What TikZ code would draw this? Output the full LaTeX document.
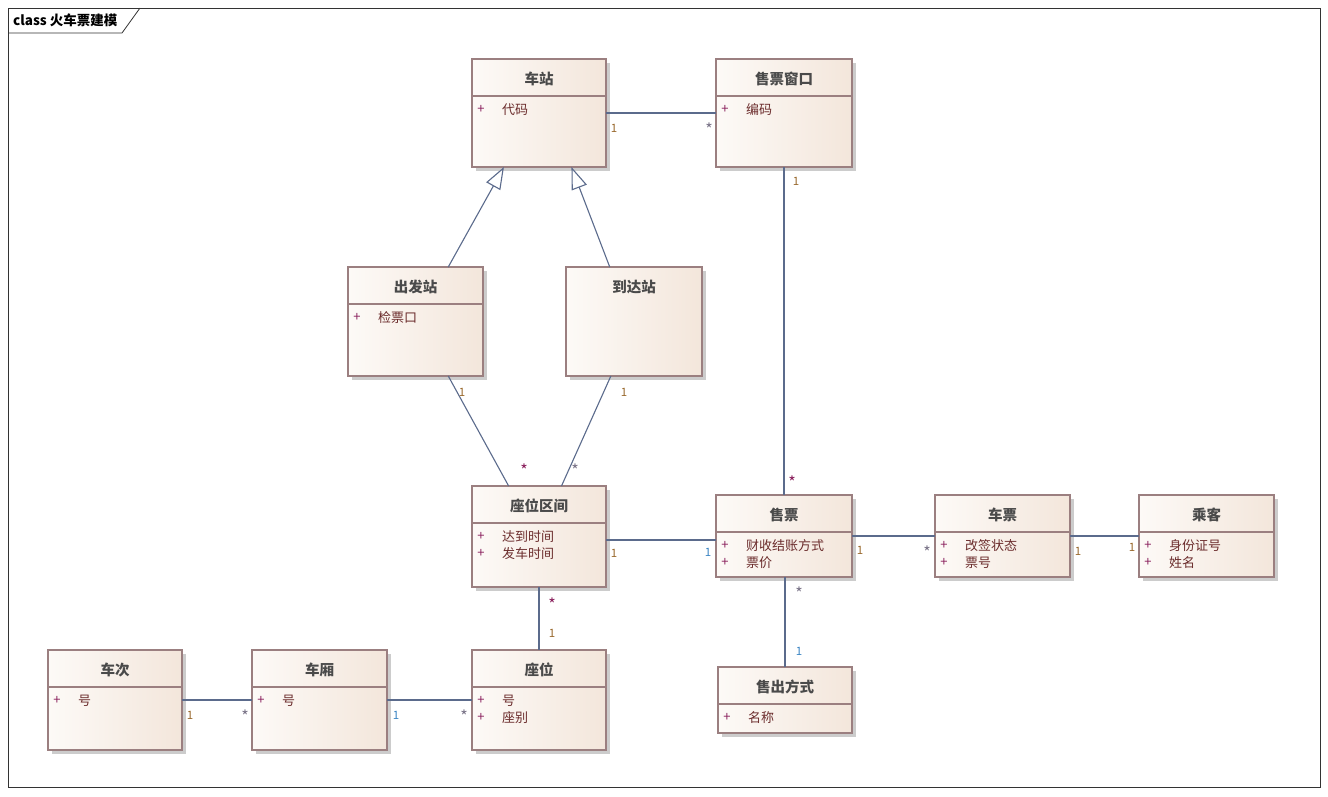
\documentclass[tikz,border=0pt]{standalone}
\usepackage{fontspec}
\setmainfont{Noto Sans CJK SC}
\usetikzlibrary{arrows.meta,positioning,calc,shadows}

\definecolor{boxleft}{HTML}{FDFAF7}
\definecolor{boxright}{HTML}{F3E6DB}
\definecolor{boxedge}{HTML}{9B7F80}
\definecolor{titlegray}{HTML}{4A4A4A}
\definecolor{attrbrown}{HTML}{6B2C2C}
\definecolor{pluspurple}{HTML}{8A1F5C}
\definecolor{linkblue}{HTML}{5B6B8C}
\definecolor{multbrown}{HTML}{9A6A2E}
\definecolor{multblue}{HTML}{3C86C4}
\definecolor{multgray}{HTML}{7A7488}

\tikzset{
  classbox/.style={draw=boxedge, line width=1.1pt, left color=boxleft, right color=boxright,
    anchor=north west, inner sep=0pt, outer sep=0pt,
    drop shadow={shadow xshift=3.5pt, shadow yshift=-3.5pt, fill=black!20, opacity=1}},
  classtitle/.style={font=\bfseries\fontsize{14.5}{16}\selectfont, text=titlegray},
  classrule/.style={draw=boxedge, line width=1.1pt},
  attrplus/.style={font=\fontsize{13}{15}\selectfont, text=pluspurple, inner sep=0pt},
  attrtext/.style={font=\fontsize{13}{15}\selectfont, text=attrbrown, inner sep=0pt, anchor=west},
  link/.style={draw=linkblue, line width=1.1pt},
  gen/.style={link, -{Triangle[open, length=22pt, width=16pt, fill=white]}},
  mult/.style={font=\fontsize{11.5}{13}\selectfont, inner sep=0pt},
  star/.style={font=\fontsize{16}{17}\selectfont, inner sep=0pt, text=multgray}
}

% class box: name, x, y, width, height, title
\newcommand{\umlclass}[6]{%
  \node[classbox, minimum width=#4pt, minimum height=#5pt] (#1) at (#2,#3) {};
  \node[classtitle] (#1-title) at ($(#1.north)+(0,20)$) {#6};
}
% attribute line: class, line number, text
\newcommand{\umlattr}[3]{%
  \node[attrplus] (#1-plus#2) at ($(#1.north west)+(9,33.5+17*#2)$) {+};
  \node[attrtext] (#1-attr#2) at ($(#1.north west)+(30,33.5+17*#2)$) {#3};
}

\begin{document}
\begin{tikzpicture}[x=1pt, y=-1pt]

\useasboundingbox (0,0) rectangle (1328,796);
\fill[white] (0,0) rectangle (1328,796);

% Frame
\draw[black!80, line width=0.8pt] (8,8) rectangle (1320,787);
\draw[black!80, line width=0.8pt] (8,33) -- (122,33) -- (140,8);
\node[anchor=west, inner sep=0pt, font=\bfseries\fontsize{13.5}{15}\selectfont] (frame-title) at (13,20) {class 火车票建模};

% Classes
\umlclass{station}{472}{59}{134}{108}{车站}
\umlattr{station}{1}{代码}

\umlclass{window}{716}{59}{136}{108}{售票窗口}
\umlattr{window}{1}{编码}

\umlclass{depart}{348}{267}{135}{109}{出发站}
\umlattr{depart}{1}{检票口}

\umlclass{arrive}{566}{267}{136}{109}{到达站}

\umlclass{segment}{472}{486}{134}{101}{座位区间}
\umlattr{segment}{1}{达到时间}
\umlattr{segment}{2}{发车时间}

\umlclass{sale}{716}{495}{136}{82}{售票}
\umlattr{sale}{1}{财收结账方式}
\umlattr{sale}{2}{票价}

\umlclass{ticket}{935}{495}{135}{82}{车票}
\umlattr{ticket}{1}{改签状态}
\umlattr{ticket}{2}{票号}

\umlclass{passenger}{1139}{495}{135}{82}{乘客}
\umlattr{passenger}{1}{身份证号}
\umlattr{passenger}{2}{姓名}

\umlclass{train}{48}{650}{134}{100}{车次}
\umlattr{train}{1}{号}

\umlclass{coach}{252}{650}{135}{100}{车厢}
\umlattr{coach}{1}{号}

\umlclass{seat}{472}{650}{134}{100}{座位}
\umlattr{seat}{1}{号}
\umlattr{seat}{2}{座别}

\umlclass{method}{718}{667}{134}{66}{售出方式}
\umlattr{method}{1}{名称}

% Header rules
\foreach \c in {station,window,depart,segment,sale,ticket,passenger,train,coach,seat,method}
  \draw[classrule] ([yshift=-37pt]\c.north west) -- ([yshift=-37pt]\c.north east);

% Generalizations
\draw[gen] (depart.59) -- (station.237);
\draw[gen] (arrive.114) -- (station.-59);

% Associations
\draw[link] (station) -- (window);
\draw[link] (window) -- (sale);
\draw[link] (depart.-59) -- (segment.121);
\draw[link] (arrive.247) -- (segment.66);
\draw[link] ([yshift=-3.5pt]segment.east) -- ([yshift=-3.5pt]segment.east -| sale.west);
\draw[link] (segment) -- (seat);
\draw[link] (sale) -- (ticket);
\draw[link] (ticket) -- (passenger);
\draw[link] (method.north) -- (method.north |- sale.south);
\draw[link] (train) -- (coach);
\draw[link] (coach) -- (seat);

% Multiplicities
\node[mult, text=multbrown] (m-st) at (614,128) {1};
\node[star] (m-wi) at (709,129) {*};
\node[mult, text=multbrown] (m-wi2) at (796,181) {1};
\node[star, text=pluspurple] (m-sa) at (792,482) {*};
\node[mult, text=multbrown] (m-de) at (462,392) {1};
\node[star, text=pluspurple] (m-se1) at (524,470) {*};
\node[mult, text=multbrown] (m-ar) at (624,392) {1};
\node[star] (m-se2) at (575,470) {*};
\node[mult, text=multbrown] (m-se3) at (614,553) {1};
\node[mult, text=multblue] (m-sa2) at (708,552) {1};
\node[star, text=pluspurple] (m-se4) at (552,604) {*};
\node[mult, text=multbrown] (m-seat) at (552,633) {1};
\node[mult, text=multbrown] (m-sa3) at (860,550) {1};
\node[star] (m-ti) at (927,552) {*};
\node[mult, text=multbrown] (m-ti2) at (1078,551) {1};
\node[mult, text=multbrown] (m-pa) at (1132,547) {1};
\node[star] (m-sa4) at (799,593) {*};
\node[mult, text=multblue] (m-me) at (799,651) {1};
\node[mult, text=multbrown] (m-tr) at (190,715) {1};
\node[star] (m-co) at (245,716) {*};
\node[mult, text=multblue] (m-co2) at (396,715) {1};
\node[star] (m-seat2) at (464,716) {*};

\end{tikzpicture}
\end{document}
